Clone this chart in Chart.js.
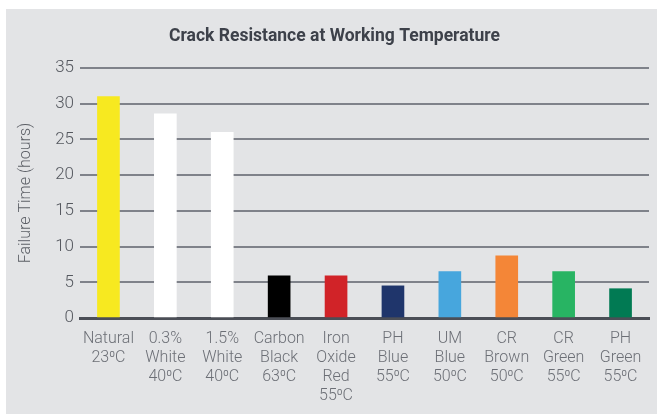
<!DOCTYPE html>
<html>
<head>
<meta charset="utf-8">
<script src="https://cdn.jsdelivr.net/npm/chart.js@4.4.1/dist/chart.umd.min.js"></script>
<style>
  html, body { margin: 0; padding: 0; background: #fff; }
  #wrap { position: relative; width: 657px; height: 414px; }
</style>
</head>
<body>
<div id="wrap"><canvas id="crackChart" width="657" height="414"></canvas></div>
<script>
  /* ---------- data ---------- */
  var categories = [
    ['Natural', '23⁰C'],
    ['0.3%', 'White', '40⁰C'],
    ['1.5%', 'White', '40⁰C'],
    ['Carbon', 'Black', '63⁰C'],
    ['Iron', 'Oxide', 'Red', '55⁰C'],
    ['PH', 'Blue', '55⁰C'],
    ['UM', 'Blue', '50⁰C'],
    ['CR', 'Brown', '50⁰C'],
    ['CR', 'Green', '55⁰C'],
    ['PH', 'Green', '55⁰C']
  ];
  var failureHours = [31, 28.6, 26, 5.9, 5.9, 4.5, 6.5, 8.7, 6.5, 4.1];
  var barColors = ['#f7e920', '#ffffff', '#ffffff', '#000000', '#d12328',
                   '#1f356b', '#47a6dd', '#f48637', '#28b463', '#017a53'];
  var yTicks = [0, 5, 10, 15, 20, 25, 30, 35];
  var chartTitle = 'Crack Resistance at Working Temperature';

  var FONT = "Roboto, 'Liberation Sans', sans-serif";
  var GRID = '#7f828a';

  // grey panel behind everything (thin white margin top/left) + title drawn on it
  var panel = {
    id: 'panel',
    beforeDraw: function (chart) {
      var c = chart.ctx;
      c.save();
      c.fillStyle = '#e3e4e6';
      c.fillRect(6, 9, chart.width - 6, chart.height - 9);
      c.fillStyle = '#3d414a';
      c.font = 'bold 17.5px ' + FONT;
      c.textAlign = 'center';
      c.textBaseline = 'middle';
      c.fillText(chartTitle, 334.5, 36.5);
      c.restore();
    }
  };

  new Chart(document.getElementById('crackChart').getContext('2d'), {
    type: 'bar',
    data: {
      labels: categories,
      datasets: [{
        data: failureHours,
        backgroundColor: barColors,
        borderWidth: 0,
        barThickness: 22
      }]
    },
    options: {
      responsive: false,
      animation: false,
      layout: { padding: { top: 68, left: 6, right: 8, bottom: 0 } },
      plugins: {
        legend: { display: false },
        tooltip: { enabled: false },
        title: { display: false }
      },
      scales: {
        x: {
          grid: { display: false },
          border: { display: true, color: '#4b4e56', width: 3 },
          ticks: {
            color: '#6c6f76',
            font: { family: FONT, size: 16, weight: 300, lineHeight: 1.17 },
            padding: 4,
            maxRotation: 0,
            autoSkip: false
          },
          afterFit: function (s) { s.height = 96; }
        },
        y: {
          min: 0,
          max: 35,
          afterBuildTicks: function (s) { s.ticks = yTicks.map(function (v) { return { value: v }; }); },
          grid: {
            drawTicks: false,
            lineWidth: 2,
            color: function (ctx) { return ctx.tick && ctx.tick.value === 0 ? 'rgba(0,0,0,0)' : GRID; }
          },
          border: { display: false },
          ticks: {
            color: '#55585f',
            font: { family: FONT, size: 17, weight: 300 },
            padding: 6
          },
          title: {
            display: true,
            text: 'Failure Time (hours)',
            color: '#5c5f66',
            font: { family: FONT, size: 16, weight: 300 },
            padding: { top: 10, bottom: 0 }
          },
          afterFit: function (s) { s.width = 74; }
        }
      }
    },
    plugins: [panel]
  });
</script>
</body>
</html>
